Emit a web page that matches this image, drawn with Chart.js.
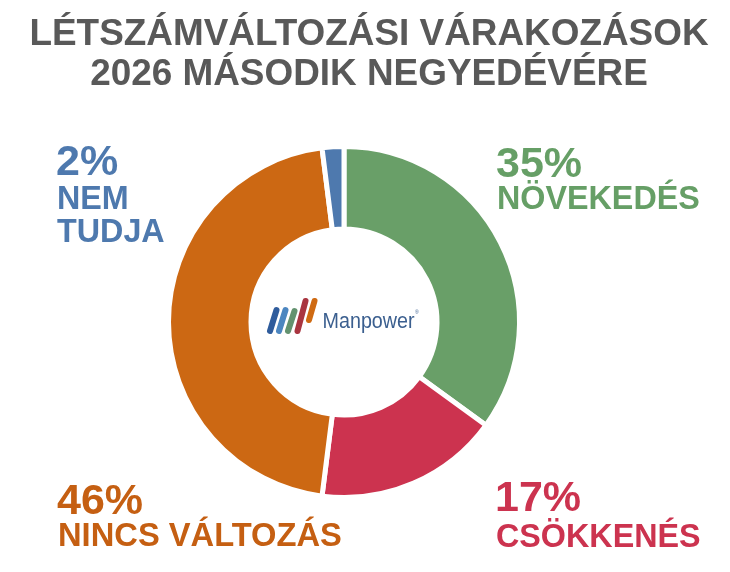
<!DOCTYPE html>
<html><head><meta charset="utf-8">
<script src="https://cdn.jsdelivr.net/npm/chart.js@4"></script>
<style>html,body{margin:0;padding:0;background:#fff}#w{position:relative;width:730px;height:572px}canvas{display:block}</style>
</head><body><div id="w"><canvas id="c" width="730" height="572"></canvas></div>
<script>
const categories = ["NÖVEKEDÉS", "CSÖKKENÉS", "NINCS VÁLTOZÁS", "NEM TUDJA"];
const values = [35, 17, 46, 2];
const colors = ["#699F68", "#CC334F", "#CC6813", "#4E79AE"];
const titleLines = ["LÉTSZÁMVÁLTOZÁSI VÁRAKOZÁSOK", "2026 MÁSODIK NEGYEDÉVÉRE"];
const labelWords = [["NÖVEKEDÉS"], ["CSÖKKENÉS"], ["NINCS VÁLTOZÁS"], ["NEM", "TUDJA"]];
const FONT = '"Liberation Sans", Arial, sans-serif';

const textPlugin = {
  id: "texts",
  afterDraw(chart) {
    const g = chart.ctx;
    const layout = [
      { x: 496, pct: 177, words: [209], size: 32.3, ink: "#669F66" },
      { x: 495, pct: 511, words: [547], size: 32.3, ink: "#CC334F" },
      { x: 57, pct: 514, words: [546], size: 32.7, ink: "#C55F12" },
      { x: 56, pct: 175, words: [209, 242], size: 32.3, ink: "#4E79AE" }
    ];
    g.save();
    g.textBaseline = "alphabetic";
    g.fillStyle = "#595959";
    g.textAlign = "center";
    g.font = "bold 36.9px " + FONT;
    g.fillText(titleLines[0], 369, 44.5);
    g.fillText(titleLines[1], 369, 85);
    g.textAlign = "left";
    layout.forEach((p, i) => {
      g.fillStyle = p.ink;
      g.font = "bold 43px " + FONT;
      g.fillText(values[i] + "%", p.x, p.pct);
      g.font = "bold " + p.size + "px " + FONT;
      labelWords[i].forEach((t, k) => g.fillText(t, p.x + 1, p.words[k]));
    });
    g.restore();
  }
};

const logoPlugin = {
  id: "logo",
  afterDraw(chart) {
    const g = chart.ctx, m = chart.getDatasetMeta(0).data[0];
    const cx = m.x, cy = m.y;
    g.save();
    const bars = [
      [-74, 9, -67.5, -12, "#2F5C9C"],
      [-65, 9, -58.5, -12, "#4C86C0"],
      [-56, 9, -49.5, -11, "#63926F"],
      [-46.5, 9, -38.5, -21, "#A93540"],
      [-35, -2, -29.5, -21, "#CF6A12"]
    ];
    g.lineCap = "round";
    g.lineWidth = 6;
    bars.forEach(b => {
      g.strokeStyle = b[4];
      g.beginPath();
      g.moveTo(cx + b[0], cy + b[1]);
      g.lineTo(cx + b[2], cy + b[3]);
      g.stroke();
    });
    g.fillStyle = "#3B5F8F";
    g.textAlign = "left";
    g.textBaseline = "alphabetic";
    g.save();
    g.translate(cx - 21.5, cy + 6);
    g.scale(0.885, 1);
    g.font = "22.3px " + FONT;
    g.fillText("Manpower", 0, 0);
    g.restore();
    g.font = "5px " + FONT;
    g.fillText("®", cx + 71, cy - 8);
    g.restore();
  }
};

new Chart(document.getElementById("c"), {
  type: "doughnut",
  data: {
    labels: categories,
    datasets: [{ data: values, backgroundColor: colors, borderColor: "#fff", borderWidth: 5 }]
  },
  options: {
    responsive: false,
    animation: false,
    rotation: 0,
    cutout: "53%",
    layout: { padding: { left: 166, right: 208, top: 144, bottom: 72 } },
    plugins: {
      legend: { display: false },
      tooltip: { enabled: false },
      title: { display: false }
    }
  },
  plugins: [textPlugin, logoPlugin]
});
</script></body></html>
